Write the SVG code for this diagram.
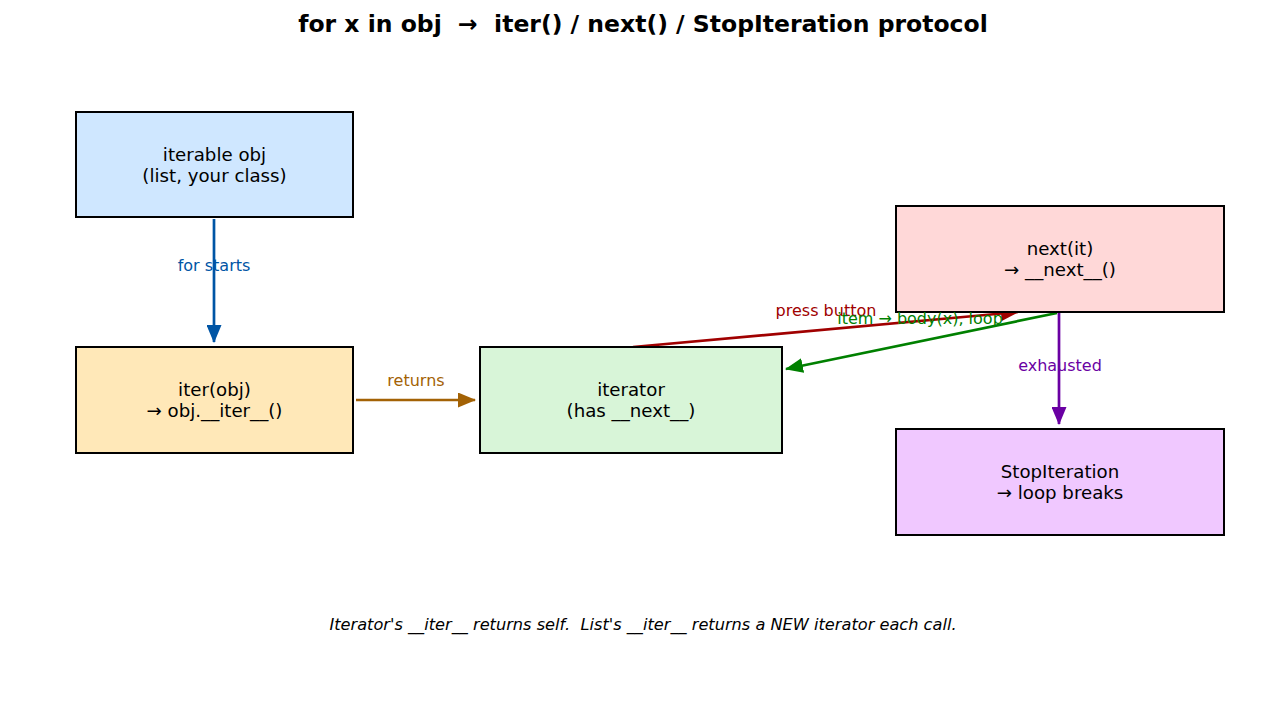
<svg xmlns="http://www.w3.org/2000/svg" width="1287" height="701" viewBox="0 0 1287 701">
<style>
text{font-family:"DejaVu Sans","Liberation Sans",sans-serif;text-anchor:middle;white-space:pre}
.node rect{stroke:#000;stroke-width:2}
.nt{font-size:18.2px;fill:#000}
.el{font-size:16px}
.c{stroke-width:2.7;fill:none}
.title{font-size:23.5px;font-weight:bold}
.foot{font-size:16.2px;font-style:italic}
</style>
<defs>
<marker id="mb" markerUnits="userSpaceOnUse" markerWidth="18" markerHeight="15" viewBox="0 0 18 15" refX="17" refY="7.5" orient="auto"><path d="M0,0 L18,7.5 L0,15 z" fill="#0055a5"/></marker>
<marker id="mo" markerUnits="userSpaceOnUse" markerWidth="18" markerHeight="15" viewBox="0 0 18 15" refX="17" refY="7.5" orient="auto"><path d="M0,0 L18,7.5 L0,15 z" fill="#a36205"/></marker>
<marker id="mr" markerUnits="userSpaceOnUse" markerWidth="18" markerHeight="15" viewBox="0 0 18 15" refX="17" refY="7.5" orient="auto"><path d="M0,0 L18,7.5 L0,15 z" fill="#a00000"/></marker>
<marker id="mg" markerUnits="userSpaceOnUse" markerWidth="18" markerHeight="15" viewBox="0 0 18 15" refX="17" refY="7.5" orient="auto"><path d="M0,0 L18,7.5 L0,15 z" fill="#008000"/></marker>
<marker id="mp" markerUnits="userSpaceOnUse" markerWidth="18" markerHeight="15" viewBox="0 0 18 15" refX="17" refY="7.5" orient="auto"><path d="M0,0 L18,7.5 L0,15 z" fill="#6a00a3"/></marker>
</defs>
<rect width="1287" height="701" fill="#fff"/>
<text class="title" x="643" y="32" xml:space="preserve">for x in obj  →  iter() / next() / StopIteration protocol</text>
<g id="connectors">
<line class="c" x1="214" y1="219" x2="214" y2="342" stroke="#0055a5" marker-end="url(#mb)"/>
<line class="c" x1="356" y1="400" x2="475" y2="400" stroke="#a36205" marker-end="url(#mo)"/>
<line class="c" x1="633" y1="347" x2="1018" y2="312" stroke="#a00000" marker-end="url(#mr)"/>
<line class="c" x1="1057" y1="313" x2="786" y2="369" stroke="#008000" marker-end="url(#mg)"/>
<line class="c" x1="1059" y1="313" x2="1059" y2="424" stroke="#6a00a3" marker-end="url(#mp)"/>
</g>
<g id="n1" class="node"><rect x="76" y="112" width="277" height="105" fill="#cfe7ff"/><text class="nt" x="214.5" y="161">iterable obj</text><text class="nt" x="214.5" y="182">(list, your class)</text></g>
<g id="n2" class="node"><rect x="76" y="347" width="277" height="106" fill="#ffe8b8"/><text class="nt" x="214.5" y="396">iter(obj)</text><text class="nt" x="214.5" y="417">→ obj.__iter__()</text></g>
<g id="n3" class="node"><rect x="480" y="347" width="302" height="106" fill="#d8f5d8"/><text class="nt" x="631" y="396">iterator</text><text class="nt" x="631" y="417">(has __next__)</text></g>
<g id="n4" class="node"><rect x="896" y="206" width="328" height="106" fill="#ffd8d8"/><text class="nt" x="1060" y="255">next(it)</text><text class="nt" x="1060" y="276">→ __next__()</text></g>
<g id="n5" class="node"><rect x="896" y="429" width="328" height="106" fill="#f0c8ff"/><text class="nt" x="1060" y="478">StopIteration</text><text class="nt" x="1060" y="499">→ loop breaks</text></g>
<g id="labels">
<text class="el" x="214" y="271" fill="#0055a5">for starts</text>
<text class="el" x="416" y="386" fill="#a36205">returns</text>
<text class="el" x="826" y="316" fill="#a00000">press button</text>
<text class="el" x="920" y="324" fill="#008000">item → body(x), loop</text>
<text class="el" x="1060" y="371" fill="#6a00a3">exhausted</text>
</g>
<text class="foot" x="643" y="630" xml:space="preserve">Iterator's __iter__ returns self.  List's __iter__ returns a NEW iterator each call.</text>
</svg>
